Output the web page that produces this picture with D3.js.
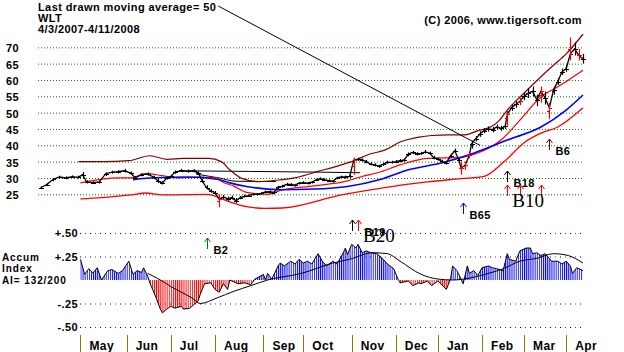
<!DOCTYPE html>
<html><head><meta charset="utf-8">
<script src="https://cdn.jsdelivr.net/npm/d3@7"></script>
<style>
body{margin:0;background:#fff}
svg{display:block}
text{font-family:"Liberation Sans",Arial,sans-serif;font-weight:bold;font-size:11px;letter-spacing:0.4px;fill:#000}
text.big{font-family:"Liberation Serif","Times New Roman",serif;font-weight:normal;font-size:19px;letter-spacing:0}
text.lab{font-size:10px;letter-spacing:0.9px}
</style></head>
<body><svg id="c" width="624" height="352"></svg>
<script>
// ---------- DATA ----------
const priceDays  = [0,3,6,9,12,15,18,20,22,25,28,31,34,37,40,43,45,48,51,54,56,58,60,62,64,67,70,73,75,77,79,81,83,85,87,89,91,93,95,97,99,101,103,105,107,109,111,113,115,117,119,121,123,125,127,129,131,133,135,137,139,141,143,145,147,149,151,153,155,157,159,161,163,165,167,169,171,173,175,177,179,181,183,185,187,189,191,193,195,197,199,200,202,204,205,207,209,211,213,215,217,219,221,222,224,226,228,230,232,234,236,238,240,242,244,246,248,250,252,254,256,258];
const priceClose = [27.0,28.0,29.6,30.3,30.0,30.4,30.2,31.0,28.7,28.6,28.8,31.3,31.8,31.9,32.2,31.5,30.0,31.0,31.2,30.2,29.0,28.5,30.0,30.5,31.8,32.2,32.0,32.2,31.5,29.0,27.0,26.0,25.5,23.5,24.2,23.6,24.0,23.0,24.0,24.4,24.6,25.0,25.0,25.3,25.7,25.8,25.6,27.2,27.5,28.0,28.0,27.8,28.4,28.6,28.4,28.7,29.4,29.8,29.5,29.2,29.0,30.0,30.3,30.3,30.5,35.5,35.7,35.5,35.0,34.2,34.0,33.6,34.2,34.8,34.8,35.0,35.3,35.5,37.3,37.8,37.4,37.5,38.0,37.6,36.2,35.8,35.0,34.6,36.8,38.3,35.5,33.0,34.0,37.0,40.5,42.0,43.5,44.5,45.0,44.8,45.6,45.2,45.8,49.5,51.5,52.5,53.5,55.0,56.0,56.5,54.0,56.5,54.5,51.5,57.0,59.5,62.5,63.5,68.0,69.5,67.5,66.5];
const priceHigh  = [27.4,28.4,30.0,30.7,30.5,30.8,30.7,31.8,29.3,29.0,29.2,31.7,32.2,32.4,32.8,32.0,30.5,31.5,31.7,30.7,29.8,29.0,30.4,31.0,32.3,32.8,32.6,32.7,32.0,29.8,27.8,26.6,26.0,25.0,24.8,24.3,24.6,23.8,24.5,24.9,25.0,25.4,25.4,25.7,26.1,26.2,26.0,27.6,27.9,28.5,28.4,28.2,28.8,29.0,28.8,29.1,29.8,30.2,29.9,29.6,29.4,30.4,30.7,30.7,31.0,36.3,36.2,36.0,35.5,34.8,34.5,34.1,34.7,35.3,35.3,35.5,35.8,36.0,37.8,38.3,37.9,38.0,38.6,38.1,36.8,36.3,35.6,35.2,37.4,39.0,36.2,35.0,35.0,38.0,41.5,42.8,44.3,45.3,45.8,45.6,46.4,46.0,46.8,51.0,52.5,53.5,54.5,56.2,57.5,58.0,55.5,58.0,56.5,53.0,58.0,60.5,63.5,64.5,73.0,71.5,69.5,68.0];
const priceLow   = [26.6,27.5,29.0,29.8,29.6,30.0,29.8,30.0,28.3,28.2,28.3,30.6,31.3,31.4,31.7,31.0,29.6,30.5,30.7,29.7,28.5,28.0,29.5,30.0,31.3,31.8,31.6,31.7,31.0,28.5,26.5,25.5,25.0,21.0,23.6,23.0,23.4,22.4,23.5,24.0,24.2,24.6,24.6,24.9,25.3,25.4,25.0,26.6,27.0,27.6,27.5,27.3,28.0,28.2,28.0,28.3,29.0,29.4,29.0,28.8,28.6,29.6,29.9,29.8,30.0,31.0,35.2,35.0,34.5,33.8,33.5,33.1,33.7,34.3,34.4,34.5,34.8,35.0,36.6,37.3,36.9,37.0,37.5,37.1,35.7,35.3,34.5,34.1,36.2,37.6,34.5,31.0,32.5,36.0,39.0,41.2,42.6,43.7,44.2,44.0,44.8,44.4,45.0,46.0,50.5,51.5,52.3,53.8,54.5,55.0,52.0,53.0,52.5,48.0,55.5,58.5,61.5,62.5,66.0,67.5,66.0,65.0];
const redBarDays = [85,149,200,202,204,222,228,238,242,252,256];

const upperBandDays = [18,30,42,52,60,68,80,86,90,96,104,112,122,132,142,148,156,164,171,180,186,194,202,208,214,218,222,226,230,238,244,250,258];
const upperBandVals = [35.0,35.0,35.3,36.8,35.7,36.0,36.0,35.0,32.5,29.8,28.9,29.3,30.2,32.0,33.8,35.0,37.2,38.6,41.0,42.5,43.0,43.2,43.2,44.5,45.6,47.5,50.8,53.5,56.0,61.0,64.5,68.0,74.0];
const midRedDays = [19,37,43,50,58,65,76,84,86,92,98,108,114,130,146,152,162,171,184,200,206,219,228,238,246,258];
const midRedVals = [28.5,30.0,30.0,31.3,30.7,30.0,30.3,30.0,29.0,27.5,25.6,25.0,26.2,27.6,29.1,30.3,31.9,34.0,36.0,36.3,37.2,41.6,47.7,54.8,57.9,63.0];
const ma50Days = [44,52,70,84,90,98,114,130,146,162,175,190,206,222,238,250,258];
const ma50Vals = [29.5,30.0,30.3,29.6,28.5,27.4,26.4,26.6,27.4,29.6,32.5,34.5,37.6,41.6,45.6,50.8,55.4];
const lowerBandDays = [19,29,43,50,58,79,90,98,107,115,143,166,184,200,211,220,230,238,246,258];
const lowerBandVals = [23.6,24.0,24.8,25.4,24.8,25.0,22.7,21.2,20.7,20.8,24.8,27.3,28.8,29.8,30.5,34.7,40.8,43.7,45.6,51.5];
const blackADays = [66,100,130,152];
const blackAVals = [32.2,32.0,31.8,31.6];
const blackBDays = [74,85,93,112];
const blackBVals = [31.2,30.0,29.0,28.9];

const aiDays = [19,21,23,25,27,29,32,34,37,39,42,44,46,48,49,51,52,55,57,58,60,62,64,67,68,71,75,76,78,81,83,85,87,89,90,94,97,100,102,106,107,108,110,113,114,116,119,121,123,125,127,129,132,134,136,139,141,144,145,146,148,150,151,153,155,157,160,163,165,168,170,171,175,177,180,181,184,186,189,193,195,196,198,200,201,203,204,206,208,210,213,215,217,220,222,223,226,228,231,233,234,236,238,240,242,243,246,248,250,252,253,255,258];
const aiVals = [0.22,0.06,0.12,0.075,0.13,0.0,0.10,0.11,0.07,0.10,0.20,0.06,0.10,0.08,0.13,0.04,-0.03,-0.19,-0.31,-0.35,-0.31,-0.28,-0.30,-0.28,-0.31,-0.30,-0.22,-0.15,-0.04,-0.03,-0.10,-0.13,-0.04,-0.10,0.0,-0.04,-0.03,-0.05,0.01,0.06,0.0,0.07,0.01,0.15,0.18,0.15,0.20,0.17,0.22,0.18,0.20,0.17,0.28,0.20,0.15,0.20,0.17,0.29,0.34,0.27,0.38,0.34,0.38,0.29,0.31,0.29,0.28,0.22,0.17,0.12,0.01,-0.03,-0.01,-0.06,-0.03,-0.04,-0.01,-0.06,-0.01,-0.10,0.01,0.15,0.10,0.01,-0.04,0.15,0.07,0.10,0.05,0.13,0.15,0.13,0.12,0.10,0.28,0.22,0.20,0.31,0.34,0.34,0.28,0.29,0.26,0.28,0.23,0.20,0.20,0.17,0.20,0.15,0.07,0.13,0.10];
const aiMaDays = [51,57,62,67,72,76,84,92,100,108,124,139,147,158,165,171,181,189,196,204,213,220,228,236,244,251,258];
const aiMaVals = [0.07,0.0,-0.07,-0.13,-0.19,-0.25,-0.19,-0.12,-0.06,0.0,0.07,0.18,0.22,0.29,0.28,0.20,0.06,0.01,0.0,0.02,0.07,0.12,0.20,0.23,0.28,0.26,0.18];

const priceTicks = [25,30,35,40,45,50,55,60,65,70];
const aiTicks = [0.5,0.25,-0.25,-0.5];
const aiTickLabels = ["+.50","+.25","-.25","-.50"];
const months = ["May","Jun","Jul","Aug","Sep","Oct","Nov","Dec","Jan","Feb","Mar","Apr"];
const monthStartDays = [19,41,62,83,106,125,148,169,189,210,230,250];

const signals = [
  {day:79,  label:"B2",  color:"#008000", top:238},
  {day:148, label:"",    color:"#000000", top:220},
  {day:151, label:"B19", color:"#ff0000", top:220},
  {day:201, label:"B65", color:"#0000ff", top:203},
  {day:222, label:"B18", color:"#000000", top:171},
  {day:222, label:"",    color:"#ff0000", top:185},
  {day:228, label:"",    color:"#ff0000", top:185},
  {day:238, label:"",    color:"#ff0000", top:185},
  {day:242, label:"B6",  color:"#800000", top:139}
];
const bigLabels = [{day:151, label:"B20", base:242},{day:222, label:"B10", base:207}];

// ---------- SCALES ----------
const svg = d3.select("#c");
const x = d3.scaleLinear().domain([0,258]).range([40.5,583]);
const yP = d3.scaleLinear().domain([25,70]).range([194.3,47.3]);
const yA = d3.scaleLinear().domain([-0.5,0.5]).range([327,233]);
const gridL = 38, gridR = 583;

// ---------- PRICE GRID ----------
svg.append("g").selectAll("line").data(priceTicks).join("line")
  .attr("x1",gridL).attr("x2",gridR).attr("y1",d=>yP(d)+0.5).attr("y2",d=>yP(d)+0.5)
  .attr("stroke","#008000").attr("stroke-dasharray","1,2");
svg.append("g").selectAll("text").data(priceTicks).join("text")
  .attr("x",19).attr("y",d=>yP(d)+5).attr("text-anchor","end").text(d=>d);

// ---------- AI GRID ----------
const aiGrid = svg.append("g");
aiGrid.selectAll("line.k").data(aiTicks).join("line").attr("class","k")
  .attr("x1",80).attr("x2",gridR).attr("y1",d=>yA(d)+0.5).attr("y2",d=>yA(d)+0.5)
  .attr("stroke","#000").attr("stroke-dasharray","1,9");
aiGrid.selectAll("line.m").data(aiTicks).join("line").attr("class","m")
  .attr("x1",85).attr("x2",gridR).attr("y1",d=>yA(d)+0.5).attr("y2",d=>yA(d)+0.5)
  .attr("stroke","#c000c0").attr("stroke-dasharray","1,9");
svg.append("g").selectAll("text").data(aiTicks).join("text")
  .attr("x",78).attr("y",(d)=>yA(d)+4).attr("text-anchor","end").text((d,i)=>aiTickLabels[i]);

svg.append("text").attr("class","lab").attr("x",2).attr("y",260.5).text("Accum");
svg.append("text").attr("class","lab").attr("x",2).attr("y",272).text("Index");
svg.append("text").attr("class","lab").attr("x",2).attr("y",283.5).text("AI= 132/200");

// ---------- AI HISTOGRAM ----------
const defs = svg.append("defs");
function stripe(id,color){
  const p = defs.append("pattern").attr("id",id).attr("patternUnits","userSpaceOnUse")
    .attr("width",x(1)-x(0)).attr("height",10).attr("x",x(0));
  p.append("rect").attr("x",0).attr("y",0).attr("width",1).attr("height",10).attr("fill",color);
}
stripe("blueS","#0000ff"); stripe("redS","#ff0000");
defs.append("clipPath").attr("id","posClip").append("rect").attr("x",0).attr("y",0).attr("width",624).attr("height",yA(0));
defs.append("clipPath").attr("id","negClip").append("rect").attr("x",0).attr("y",yA(0)).attr("width",624).attr("height",100);
const aiData = d3.zip(aiDays, aiVals);
const aiArea = d3.area().x(d=>x(d[0])).y0(yA(0)).y1(d=>yA(d[1]));
svg.append("path").datum(aiData).attr("d",aiArea).attr("fill","url(#blueS)").attr("clip-path","url(#posClip)");
svg.append("path").datum(aiData).attr("d",aiArea).attr("fill","url(#redS)").attr("clip-path","url(#negClip)");
svg.append("path").datum(aiData).attr("d",d3.line().x(d=>x(d[0])).y(d=>yA(d[1])))
  .attr("fill","none").attr("stroke","#000").attr("stroke-width",1);
svg.append("path").datum(d3.zip(aiMaDays,aiMaVals)).attr("d",d3.line().x(d=>x(d[0])).y(d=>yA(d[1])).curve(d3.curveMonotoneX))
  .attr("fill","none").attr("stroke","#000").attr("stroke-width",1);

// ---------- MOVING AVERAGES / BANDS ----------
function maLine(days,vals,color,w){
  svg.append("path").datum(d3.zip(days,vals))
    .attr("d",d3.line().x(d=>x(d[0])).y(d=>yP(d[1])).curve(d3.curveMonotoneX))
    .attr("fill","none").attr("stroke",color).attr("stroke-width",w);
}
maLine(blackADays,blackAVals,"#000",1);
maLine(blackBDays,blackBVals,"#000",1);
maLine(upperBandDays,upperBandVals,"#800000",1.2);
maLine(lowerBandDays,lowerBandVals,"#ff0000",1.3);
maLine(midRedDays,midRedVals,"#ff0000",1.2);
maLine(ma50Days,ma50Vals,"#0000ff",1.6);

// ---------- PRICE BARS ----------
const pdata = priceDays.map((d,i)=>({d, c:priceClose[i], h:priceHigh[i], l:priceLow[i]}));
const isRed = p => redBarDays.includes(p.d);
svg.append("path").datum(pdata).attr("d",d3.line().x(p=>x(p.d)).y(p=>yP(p.c)))
  .attr("fill","none").attr("stroke","#000").attr("stroke-width",1.3);
const bars = svg.append("g");
bars.selectAll("line.hl").data(pdata).join("line").attr("class","hl")
  .attr("x1",p=>Math.round(x(p.d))+0.5).attr("x2",p=>Math.round(x(p.d))+0.5)
  .attr("y1",p=>yP(p.h)).attr("y2",p=>yP(p.l))
  .attr("stroke",p=>isRed(p)?"#ff0000":"#000").attr("stroke-width",1.2);
bars.selectAll("line.cl").data(pdata).join("line").attr("class","cl")
  .attr("x1",p=>Math.round(x(p.d))).attr("x2",p=>Math.round(x(p.d))+3)
  .attr("y1",p=>Math.round(yP(p.c))+0.5).attr("y2",p=>Math.round(yP(p.c))+0.5)
  .attr("stroke",p=>isRed(p)?"#ff0000":"#000");
bars.selectAll("line.op").data(pdata).join("line").attr("class","op")
  .attr("x1",p=>Math.round(x(p.d))-2).attr("x2",p=>Math.round(x(p.d)))
  .attr("y1",p=>Math.round(yP((p.h+p.l)/2))+0.5).attr("y2",p=>Math.round(yP((p.h+p.l)/2))+0.5)
  .attr("stroke",p=>isRed(p)?"#ff0000":"#000");

// ---------- SIGNALS ----------
const sg = svg.append("g");
signals.forEach(s=>{
  const xx = Math.round(x(s.day))+0.5;
  sg.append("path").attr("d",`M${xx},${s.top+11}V${s.top}M${xx-3},${s.top+4}L${xx},${s.top}L${xx+3},${s.top+4}`)
    .attr("fill","none").attr("stroke",s.color).attr("stroke-width",1);
  if(s.label) sg.append("text").attr("x",xx+6).attr("y",s.top+16).text(s.label);
});
bigLabels.forEach(b=>{
  sg.append("text").attr("class","big").attr("x",x(b.day)+5).attr("y",b.base).text(b.label);
});

// ---------- MONTH AXIS ----------
const mg = svg.append("g");
mg.selectAll("line").data(monthStartDays).join("line")
  .attr("x1",d=>Math.round(x(d))+0.5).attr("x2",d=>Math.round(x(d))+0.5).attr("y1",335).attr("y2",352)
  .attr("stroke","#808000").attr("stroke-width",1);
mg.selectAll("text").data(monthStartDays).join("text")
  .attr("x",d=>x(d)+9).attr("y",350).style("font-size","12px").text((d,i)=>months[i]);

// ---------- TITLES ----------
const t1 = svg.append("text").attr("x",38).attr("y",11).text("Last drawn moving average= 50");
svg.append("text").attr("x",38).attr("y",22).text("WLT");
svg.append("text").attr("x",38).attr("y",33).text("4/3/2007-4/11/2008");
svg.append("text").attr("x",582).attr("y",24).attr("text-anchor","end").text("(C) 2006, www.tigersoft.com");
const tEnd = 38 + t1.node().getComputedTextLength();
svg.append("line").attr("x1",tEnd+2).attr("y1",6).attr("x2",x(209)).attr("y2",yP(40))
  .attr("stroke","#000").attr("stroke-width",1);
</script></body></html>
